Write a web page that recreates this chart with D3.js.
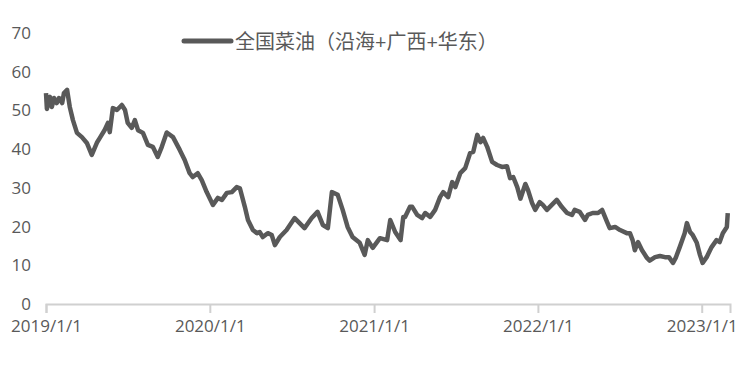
<!DOCTYPE html>
<html lang="zh">
<head>
    <meta charset="UTF-8">
    <title>全国菜油</title>
    <script src="https://d3js.org/d3.v7.min.js"></script>
    <style>
        body { margin: 0; background: white; }
        text { font-family: "Open Sans", "Noto Sans CJK SC", sans-serif; fill: #595959; }
    </style>
</head>
<body>
<svg id="main" width="747" height="371"></svg>
<script>
    // series (date, value)
    let seriesName = "全国菜油（沿海+广西+华东）";
    let dates = [
        "2019-01-01","2019-01-03","2019-01-10","2019-01-14","2019-01-19","2019-01-25","2019-01-30","2019-02-06",
        "2019-02-10","2019-02-17","2019-02-23","2019-03-02","2019-03-11","2019-03-22","2019-04-02","2019-04-13",
        "2019-04-25","2019-05-01","2019-05-12","2019-05-19","2019-05-23","2019-05-30","2019-06-08","2019-06-19",
        "2019-06-26","2019-07-02","2019-07-11","2019-07-18","2019-07-25","2019-08-05","2019-08-16","2019-08-27",
        "2019-09-07","2019-09-16","2019-09-27","2019-10-11","2019-10-26","2019-11-06","2019-11-17","2019-11-24",
        "2019-12-05","2019-12-14","2019-12-25",
        "2020-01-08","2020-01-19","2020-01-28","2020-02-08","2020-02-19","2020-03-01","2020-03-08","2020-03-19",
        "2020-03-26","2020-04-06","2020-04-15","2020-04-21","2020-04-28","2020-05-09","2020-05-18","2020-05-25",
        "2020-06-05","2020-06-20","2020-07-08","2020-07-19","2020-07-30","2020-08-15","2020-08-28","2020-09-09",
        "2020-09-20","2020-09-29","2020-10-12","2020-10-23","2020-11-03","2020-11-14","2020-11-30","2020-12-11",
        "2020-12-18","2020-12-29",
        "2021-01-14","2021-01-30","2021-02-06","2021-02-17","2021-03-01","2021-03-07","2021-03-11","2021-03-22",
        "2021-03-27","2021-04-07","2021-04-18","2021-04-25","2021-05-06","2021-05-17","2021-05-28","2021-06-04",
        "2021-06-15","2021-06-24","2021-07-01","2021-07-12","2021-07-23","2021-08-03","2021-08-10","2021-08-19",
        "2021-08-26","2021-09-01","2021-09-10","2021-09-21","2021-10-02","2021-10-13","2021-10-24","2021-10-31",
        "2021-11-07","2021-11-16","2021-11-23","2021-12-04","2021-12-10","2021-12-19","2021-12-26",
        "2022-01-05","2022-01-12","2022-01-21","2022-02-01","2022-02-12","2022-02-23","2022-03-07","2022-03-18",
        "2022-03-24","2022-04-04","2022-04-16","2022-04-22","2022-05-03","2022-05-15","2022-05-24","2022-06-04",
        "2022-06-10","2022-06-22","2022-07-03","2022-07-18","2022-07-25","2022-07-31","2022-08-05","2022-08-12",
        "2022-08-21","2022-09-01","2022-09-07","2022-09-19","2022-09-30","2022-10-11","2022-10-20","2022-10-29",
        "2022-11-04","2022-11-13","2022-11-24","2022-11-29","2022-12-06","2022-12-12","2022-12-21","2022-12-28",
        "2023-01-03","2023-01-12","2023-01-23","2023-02-03","2023-02-10","2023-02-17","2023-02-26","2023-02-28"
    ];
    let values = [
        54.5,50.4,53.5,50.9,53.2,51.9,53.2,51.9,
        54.5,55.3,50.9,47.5,44.2,43.1,41.6,38.5,
        41.8,42.9,45.0,46.8,44.4,50.6,50.1,51.4,
        50.1,46.8,45.5,47.5,44.9,44.2,41.1,40.6,
        38.0,40.6,44.3,43.1,39.8,37.2,33.8,32.8,
        33.8,32.0,28.9,
        25.6,27.4,26.9,28.7,28.9,30.2,29.9,25.1,
        21.7,19.1,18.3,18.6,17.3,18.3,17.8,15.2,
        17.3,19.1,22.2,20.9,19.6,22.2,23.8,20.4,
        19.6,28.9,28.2,24.3,19.9,17.3,15.8,12.7,
        16.5,14.5,
        17.0,16.5,21.7,18.6,16.5,22.5,22.5,25.1,
        25.1,23.0,22.2,23.5,22.5,24.3,27.6,28.9,
        27.6,31.5,30.2,33.8,35.1,39.0,39.3,43.7,
        41.8,42.9,40.6,36.7,35.9,35.4,35.6,32.5,
        32.8,30.2,27.2,31.0,29.4,26.1,24.3,
        26.3,25.6,24.3,25.6,26.9,25.1,23.5,23.0,
        24.3,23.8,21.7,23.0,23.5,23.5,24.3,21.2,
        19.6,19.9,19.1,18.3,18.3,16.5,13.9,16.0,
        13.9,11.9,11.2,12.1,12.4,12.1,12.1,10.6,
        11.9,14.7,18.3,20.9,18.6,17.8,15.8,12.7,
        10.6,12.1,14.7,16.5,16.0,18.3,19.9,23.5
    ];
    let yTicks = [0, 10, 20, 30, 40, 50, 60, 70];
    let xTickLabels = ["2019/1/1", "2020/1/1", "2021/1/1", "2022/1/1", "2023/1/1"];

    let svg = d3.select('svg#main');
    let parse = d3.timeParse("%Y-%m-%d");
    let data = dates.map(function (d, i) { return {date: parse(d), value: values[i]}; });
    let xTickDates = xTickLabels.map(function (s) { return d3.timeParse("%Y/%m/%d")(s); });

    // plot extent
    let xRng = [46, 730];
    let yRng = [304, 33];

    let scaleX = d3.scaleTime()
        .domain([xTickDates[0], d3.timeDay.offset(xTickDates[4], 63)])
        .range(xRng);
    let scaleY = d3.scaleLinear().domain([0, 70]).range(yRng);

    // y axis labels only, no line
    let yAxis = svg.append('g')
        .attr("transform", "translate(31,0)")
        .call(d3.axisLeft(scaleY).tickValues(yTicks).tickSize(0).tickPadding(0));
    yAxis.select(".domain").remove();
    yAxis.selectAll("text").style("font-size", "17px").attr("fill", "#595959");

    // x axis
    let xAxis = svg.append('g')
        .attr("transform", "translate(0," + yRng[0] + ")")
        .call(d3.axisBottom(scaleX).tickValues(xTickDates)
            .tickFormat(function (d, i) { return xTickLabels[i]; })
            .tickSizeOuter(0).tickSize(9).tickPadding(7));
    xAxis.select(".domain").attr("stroke", "#d0d0d0").attr("stroke-width", 2);
    xAxis.selectAll(".tick line").attr("stroke", "#d0d0d0").attr("stroke-width", 2);
    xAxis.selectAll("text").style("font-size", "17px").attr("fill", "#595959");

    // the series line
    let line = d3.line()
        .x(function (d) { return scaleX(d.date); })
        .y(function (d) { return scaleY(d.value); });
    svg.append('path')
        .datum(data)
        .attr("d", line)
        .attr("fill", "none")
        .attr("stroke", "#595959")
        .attr("stroke-width", 4.5)
        .attr("stroke-linejoin", "round");

    // legend
    let legend = svg.append('g').attr("transform", "translate(184,41)");
    legend.append('line')
        .attr("x1", 0).attr("x2", 47).attr("y1", 0).attr("y2", 0)
        .attr("stroke", "#595959").attr("stroke-width", 5).attr("stroke-linecap", "round");
    legend.append('text')
        .attr("x", 51).attr("y", 1).attr("dy", "0.35em")
        .style("font-size", "20px")
        .text(seriesName);
</script>
</body>
</html>
